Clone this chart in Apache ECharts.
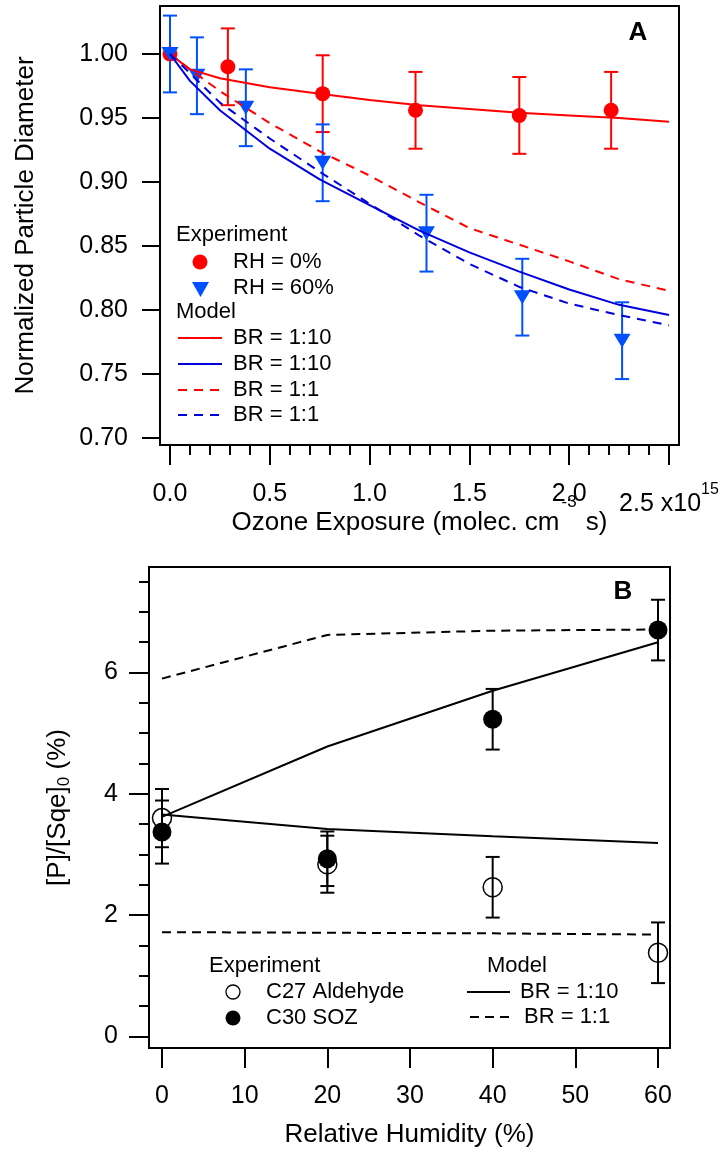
<!DOCTYPE html>
<html>
<head>
<meta charset="utf-8">
<script src="https://cdn.jsdelivr.net/npm/echarts@6/dist/echarts.min.js"></script>
<style>
  html, body { margin: 0; padding: 0; background: #fff; }
  #chart { width: 727px; height: 1156px; }
</style>
</head>
<body>
<div id="chart"></div>
<script>
// ---- panel A: normalized particle diameter vs ozone exposure (x1e15) ----
const exposureGrid = [0, 0.1, 0.25, 0.5, 0.75, 1.0, 1.25, 1.5, 1.75, 2.0, 2.25, 2.5];
const modelDryBR10 = [1.000, 0.988, 0.981, 0.974, 0.969, 0.964, 0.960, 0.957, 0.954, 0.952, 0.950, 0.947];
const modelWetBR10 = [1.000, 0.979, 0.956, 0.926, 0.902, 0.882, 0.862, 0.845, 0.830, 0.816, 0.804, 0.796];
const modelDryBR1 = [1.000, 0.988, 0.971, 0.946, 0.924, 0.905, 0.884, 0.864, 0.851, 0.838, 0.824, 0.815];
const modelWetBR1 = [1.000, 0.985, 0.962, 0.934, 0.908, 0.883, 0.858, 0.836, 0.818, 0.805, 0.796, 0.788];

const dryExposure = [0, 0.29, 0.765, 1.23, 1.75, 2.21];
const dryDiameter = [1.000, 0.990, 0.969, 0.956, 0.952, 0.956];
const dryError = [0, 0.03, 0.03, 0.03, 0.03, 0.03];
const wetExposure = [0, 0.135, 0.38, 0.765, 1.285, 1.765, 2.265];
const wetDiameter = [1.000, 0.983, 0.958, 0.915, 0.860, 0.810, 0.776];
const wetError = [0.03, 0.03, 0.03, 0.03, 0.03, 0.03, 0.03];

const xTicksA = [0, 0.5, 1.0, 1.5, 2.0, 2.5];
const xTickLabelsA = ['0.0', '0.5', '1.0', '1.5', '2.0', '{m|2.5 x10}{e|15}'];
const xMinorA = [0.1, 0.2, 0.3, 0.4, 0.6, 0.7, 0.8, 0.9, 1.1, 1.2, 1.3, 1.4,
  1.6, 1.7, 1.8, 1.9, 2.1, 2.2, 2.3, 2.4];
const yTicksA = [0.70, 0.75, 0.80, 0.85, 0.90, 0.95, 1.00];
const yTickLabelsA = ['0.70', '0.75', '0.80', '0.85', '0.90', '0.95', '1.00'];

// ---- panel B: product yield vs relative humidity ----
const humidity = [0, 20, 40, 60];
const aldehyde = [3.60, 2.84, 2.46, 1.38];
const aldehydeErr = [0.48, 0.47, 0.50, 0.50];
const soz = [3.37, 2.93, 5.23, 6.70];
const sozErr = [0.52, 0.45, 0.50, 0.50];
const modelSozBR10 = [3.62, 4.78, 5.70, 6.50];
const modelAldBR10 = [3.66, 3.42, 3.30, 3.19];
const modelSozBR1 = [5.90, 6.62, 6.69, 6.71];
const modelAldBR1 = [1.72, 1.71, 1.70, 1.68];

const xTicksB = [0, 10, 20, 30, 40, 50, 60];
const yTicksB = [0, 2, 4, 6];
const yMinorB = [0.5, 1, 1.5, 2.5, 3, 3.5, 4.5, 5, 5.5, 6.5, 7, 7.5];

const FONT = '"Liberation Sans", Arial, Helvetica, sans-serif';
const RED = '#ff0000';
const BLUE = '#0050ff';
const DARKBLUE = '#0000dd';

// axis indices: panel A uses x 0 / y 0, panel B uses x 2 / y 1
const AX = { a: [0, 0], b: [2, 1] };

const pairs = (xs, ys) => xs.map((x, i) => [x, ys[i]]);

function errorBars(xs, ys, errs, color, axes, cap) {
  return {
    type: 'custom',
    xAxisIndex: axes[0], yAxisIndex: axes[1],
    silent: true,
    data: xs.map((x, i) => [x, ys[i], errs[i]]).filter(d => d[2] > 0),
    renderItem: (params, api) => {
      const x = api.value(0), y = api.value(1), e = api.value(2);
      const top = api.coord([x, y + e]);
      const bot = api.coord([x, y - e]);
      const style = { stroke: color, lineWidth: 2 };
      return {
        type: 'group',
        children: [
          { type: 'line', shape: { x1: top[0], y1: top[1], x2: bot[0], y2: bot[1] }, style },
          { type: 'line', shape: { x1: top[0] - cap, y1: top[1], x2: top[0] + cap, y2: top[1] }, style },
          { type: 'line', shape: { x1: bot[0] - cap, y1: bot[1], x2: bot[0] + cap, y2: bot[1] }, style }
        ]
      };
    }
  };
}

function modelLine(xs, ys, color, dash, axes) {
  return {
    type: 'line',
    xAxisIndex: axes[0], yAxisIndex: axes[1],
    data: pairs(xs, ys),
    symbol: 'none',
    smooth: false,
    silent: true,
    lineStyle: { color: color, width: 2, type: dash || 'solid' }
  };
}

const axisLine = { show: true, onZero: false, lineStyle: { color: '#000', width: 2 } };
const tickLabel = { color: '#000', fontFamily: FONT, fontSize: 25 };
const nameStyle = { color: '#000', fontFamily: FONT, fontSize: 26 };

const chart = echarts.init(document.getElementById('chart'));

function txt(text, x, y, size, align, bold) {
  return {
    type: 'text', silent: true,
    style: {
      text: text, x: x, y: y, fill: '#000',
      font: (bold ? 'bold ' : '') + size + 'px ' + FONT,
      textAlign: align || 'left', textVerticalAlign: 'middle',
      align: align || 'left', verticalAlign: 'middle'
    }
  };
}
function legLine(x1, x2, y, color, dash) {
  return {
    type: 'line', silent: true,
    shape: { x1: x1, y1: y, x2: x2, y2: y },
    style: { stroke: color, lineWidth: 2, lineDash: dash || null }
  };
}

chart.setOption({
  animation: false,
  backgroundColor: '#fff',
  grid: [
    { left: 160, top: 6, right: 48, bottom: 711, show: true, borderColor: '#000', borderWidth: 2 },
    { left: 149, top: 567, right: 57, bottom: 108, show: true, borderColor: '#000', borderWidth: 2 }
  ],
  xAxis: [
    {
      type: 'value', gridIndex: 0, position: 'bottom', min: -0.05, max: 2.55,
      axisLine: axisLine,
      axisTick: { show: true, customValues: xTicksA, length: 20, lineStyle: { color: '#000', width: 2 } },
      axisLabel: {
        ...tickLabel, margin: 37, customValues: xTicksA,
        formatter: v => xTickLabelsA[xTicksA.findIndex(t => Math.abs(t - v) < 1e-6)],
        rich: {
          m: { fontFamily: FONT, fontSize: 25, color: '#000', padding: [10, 0, 0, 0], verticalAlign: 'bottom' },
          e: { fontFamily: FONT, fontSize: 16, color: '#000', verticalAlign: 'top' }
        }
      },
      splitLine: { show: false },
      name: '{t|Ozone Exposure (molec. cm}{u|-3}{t| s)}',
      nameLocation: 'middle', nameGap: 49, nameMoveOverlap: false,
      nameTextStyle: {
        ...nameStyle,
        rich: {
          t: { fontFamily: FONT, fontSize: 26, color: '#000', verticalAlign: 'middle' },
          u: { fontFamily: FONT, fontSize: 17, color: '#000', verticalAlign: 'top', padding: [0, 2, 40, 2] }
        }
      }
    },
    {
      type: 'value', gridIndex: 0, position: 'bottom', min: -0.05, max: 2.55,
      axisLine: { show: false, onZero: false },
      axisTick: { show: true, customValues: xMinorA, length: 10, lineStyle: { color: '#000', width: 2 } },
      axisLabel: { show: false },
      splitLine: { show: false }
    },
    {
      type: 'value', gridIndex: 1, position: 'bottom', min: -1.57, max: 61.45,
      axisLine: axisLine,
      axisTick: { show: true, customValues: xTicksB, length: 20, lineStyle: { color: '#000', width: 2 } },
      axisLabel: { ...tickLabel, margin: 36, customValues: xTicksB },
      splitLine: { show: false },
      name: 'Relative Humidity (%)',
      nameLocation: 'middle', nameGap: 74, nameMoveOverlap: false,
      nameTextStyle: nameStyle
    }
  ],
  yAxis: [
    {
      type: 'value', gridIndex: 0, position: 'left', min: 0.6945, max: 1.0375,
      axisLine: axisLine,
      axisTick: { show: true, customValues: yTicksA, length: 18, lineStyle: { color: '#000', width: 2 } },
      axisLabel: {
        ...tickLabel, margin: 32, customValues: yTicksA,
        formatter: v => yTickLabelsA[yTicksA.findIndex(t => Math.abs(t - v) < 1e-6)]
      },
      splitLine: { show: false },
      name: 'Normalized Particle Diameter',
      nameLocation: 'middle', nameGap: 121, nameMoveOverlap: false,
      nameTextStyle: nameStyle
    },
    {
      type: 'value', gridIndex: 1, position: 'left', min: -0.19, max: 7.74,
      axisLine: axisLine,
      axisTick: { show: true, customValues: yTicksB, length: 20, lineStyle: { color: '#000', width: 2 } },
      axisLabel: { ...tickLabel, margin: 31, customValues: yTicksB },
      splitLine: { show: false },
      name: '{n|[P]/[Sqe]}{s|0}{n| (%)}',
      nameLocation: 'middle', nameGap: 76, nameMoveOverlap: false,
      nameTextStyle: {
        ...nameStyle,
        rich: {
          n: { fontFamily: FONT, fontSize: 26, color: '#000', verticalAlign: 'middle' },
          s: { fontFamily: FONT, fontSize: 17, color: '#000', verticalAlign: 'bottom', padding: [14, 0, 0, 0] }
        }
      }
    },
    {
      type: 'value', gridIndex: 1, position: 'left', min: -0.19, max: 7.74,
      axisLine: { show: false, onZero: false },
      axisTick: { show: true, customValues: yMinorB, length: 10, lineStyle: { color: '#000', width: 2 } },
      axisLabel: { show: false },
      splitLine: { show: false }
    }
  ],
  series: [
    // panel A models
    modelLine(exposureGrid, modelDryBR10, RED, null, AX.a),
    modelLine(exposureGrid, modelWetBR10, DARKBLUE, null, AX.a),
    modelLine(exposureGrid, modelDryBR1, RED, [9, 7], AX.a),
    modelLine(exposureGrid, modelWetBR1, DARKBLUE, [9, 7], AX.a),
    // panel A experiment
    errorBars(dryExposure, dryDiameter, dryError, RED, AX.a, 7),
    {
      type: 'scatter', xAxisIndex: AX.a[0], yAxisIndex: AX.a[1], silent: true,
      data: pairs(dryExposure, dryDiameter),
      symbol: 'circle', symbolSize: 15,
      itemStyle: { color: RED, opacity: 1 }
    },
    errorBars(wetExposure, wetDiameter, wetError, BLUE, AX.a, 7),
    {
      type: 'scatter', xAxisIndex: AX.a[0], yAxisIndex: AX.a[1], silent: true,
      data: pairs(wetExposure, wetDiameter),
      symbol: 'path://M0,0 L18,0 L9,15 Z', symbolSize: [17, 14],
      itemStyle: { color: BLUE, opacity: 1 }
    },
    // panel B models
    modelLine(humidity, modelSozBR10, '#000', null, AX.b),
    modelLine(humidity, modelAldBR10, '#000', null, AX.b),
    modelLine(humidity, modelSozBR1, '#000', [9, 6], AX.b),
    modelLine(humidity, modelAldBR1, '#000', [9, 6], AX.b),
    // panel B experiment
    errorBars(humidity, aldehyde, aldehydeErr, '#000', AX.b, 7),
    errorBars(humidity, soz, sozErr, '#000', AX.b, 7),
    {
      type: 'scatter', xAxisIndex: AX.b[0], yAxisIndex: AX.b[1], silent: true,
      data: pairs(humidity, aldehyde),
      symbol: 'circle', symbolSize: 19,
      itemStyle: { color: 'rgba(0,0,0,0)', borderColor: '#000', borderWidth: 1.5, opacity: 1 }
    },
    {
      type: 'scatter', xAxisIndex: AX.b[0], yAxisIndex: AX.b[1], silent: true,
      data: pairs(humidity, soz),
      symbol: 'circle', symbolSize: 19,
      itemStyle: { color: '#000', opacity: 1 }
    }
  ],
  graphic: [
    txt('A', 638, 33, 26, 'center', true),
    txt('B', 623, 592, 26, 'center', true),
    // legend A
    txt('Experiment', 176, 235, 22),
    { type: 'circle', silent: true, shape: { cx: 200, cy: 262, r: 7.5 }, style: { fill: RED } },
    txt('RH = 0%', 233, 262, 22),
    { type: 'polygon', silent: true, shape: { points: [[192, 282], [209, 282], [200.5, 297]] }, style: { fill: BLUE } },
    txt('RH = 60%', 233, 288, 22),
    txt('Model', 176, 312, 22),
    legLine(178, 222, 338, RED),
    txt('BR = 1:10', 233, 338, 22),
    legLine(178, 222, 364, DARKBLUE),
    txt('BR = 1:10', 233, 364, 22),
    legLine(178, 222, 390, RED, [9, 7]),
    txt('BR = 1:1', 233, 390, 22),
    legLine(178, 222, 415, DARKBLUE, [9, 7]),
    txt('BR = 1:1', 233, 415, 22),
    // legend B
    txt('Experiment', 209, 966, 22),
    { type: 'circle', silent: true, shape: { cx: 233, cy: 992, r: 7 }, style: { fill: 'none', stroke: '#000', lineWidth: 1.3 } },
    txt('C27 Aldehyde', 266, 992, 22),
    { type: 'circle', silent: true, shape: { cx: 233, cy: 1018, r: 7.5 }, style: { fill: '#000' } },
    txt('C30 SOZ', 266, 1018, 22),
    txt('Model', 517, 966, 22, 'center'),
    legLine(467, 510, 992, '#000'),
    txt('BR = 1:10', 520, 992, 22),
    legLine(470, 510, 1017, '#000', [9, 6]),
    txt('BR = 1:1', 524, 1017, 22)
  ]
});
</script>
</body>
</html>
